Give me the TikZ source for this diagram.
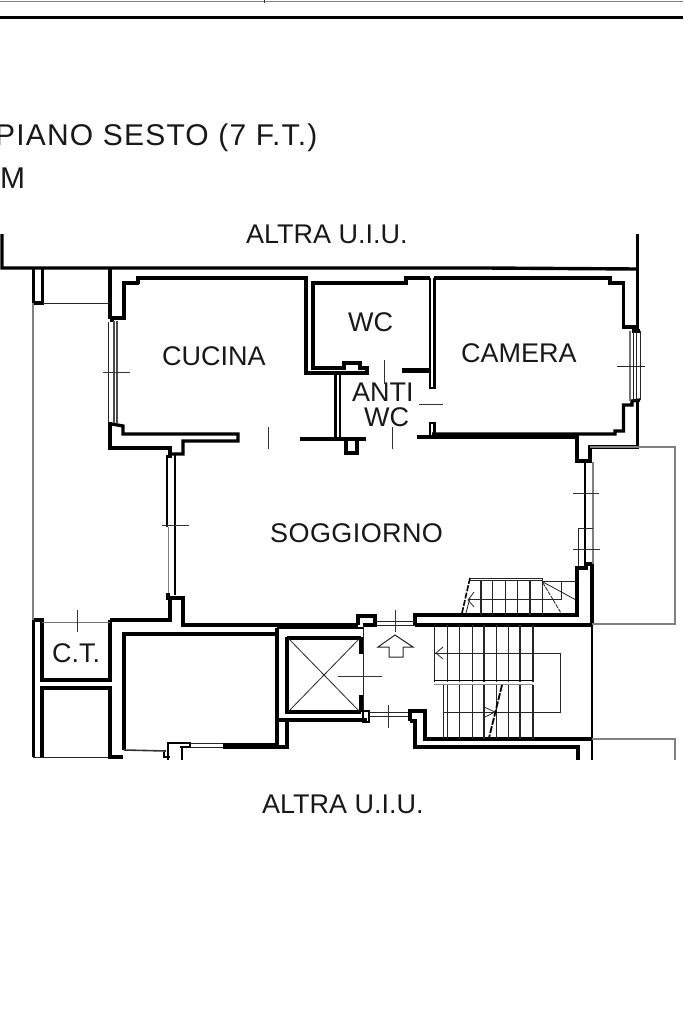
\documentclass[tikz,border=0pt]{standalone}
\usepackage{fontspec}
\setmainfont{Liberation Sans}
\tikzset{
  wall/.style={line width=3.4pt,line join=miter,line cap=butt,black},
  midwall/.style={line width=3.3pt,line join=miter,black},
  thinl/.style={line width=0.8pt,black!85},
  grayl/.style={line width=1.3pt,black!50},
  hair/.style={line width=0.7pt,black!80},
  lbl/.style={inner sep=0pt,anchor=base west,text=black!90},
}
\newcommand{\lbsize}{\fontsize{27}{27}\selectfont}
\newcommand{\ttlsize}{\fontsize{30}{30}\selectfont\addfontfeatures{LetterSpace=4}}
\begin{document}
\begin{tikzpicture}[x=1pt,y=-1pt]
\useasboundingbox (0,0) rectangle (683,1025);
\fill[white] (0,0) rectangle (683,1025);
% header
\draw[line width=1.4pt,black!50] (0,1.5) -- (683,1.5);
\draw[hair] (264,0) -- (264,3);
\draw[line width=2.6pt] (0,17.5) -- (683,17.5);
% texts
\node[lbl] (title) at (-5,145) {\ttlsize PIANO SESTO (7 F.T.)};
\node[lbl] (m) at (0,188) {\ttlsize M};
\node[lbl] (altra1) at (246,243) {\lbsize ALTRA U.I.U.};
\node[lbl] (altra2) at (262,813) {\lbsize ALTRA U.I.U.};
\node[lbl] (cucina) at (162,365) {\lbsize CUCINA};
\node[lbl] (wc1) at (348,331) {\lbsize WC};
\node[lbl] (camera) at (461,362) {\lbsize CAMERA};
\node[lbl] (anti) at (352,401) {\lbsize ANTI};
\node[lbl] (wc2) at (364,426) {\lbsize WC};
\node[lbl] (sogg) at (270,542) {\lbsize\addfontfeatures{LetterSpace=1.5} SOGGIORNO};
\node[lbl] (ct) at (52,662) {\lbsize C.T.};
% outer top walls
\draw[wall] (2,234) -- (2,268) -- (485,268) -- (637,269);
\draw[wall] (637.5,234) -- (637.5,330);
\draw[wall] (637.5,401) -- (637.5,447) -- (590,447) -- (590,461) -- (577,461) -- (577,437) -- (417,437);
% kitchen
\draw[wall] (110,268) -- (110,319);
\draw[midwall] (138,284) -- (138,278) -- (306,278) -- (306,373) -- (367,373) -- (367,368) -- (360,368) -- (360,363) -- (344,363) -- (344,368) -- (313,368) -- (313,283) -- (406,283) -- (406,278) -- (430,278);
\draw[midwall] (139,283) -- (124,283) -- (124,318) -- (112,318) -- (112,322);
\draw[midwall] (110,422) -- (110,448) -- (170,448) -- (170,458);
\draw[midwall] (112,424) -- (123,426) -- (123,434) -- (238,434) -- (238,441) -- (183,441) -- (183,454) -- (168,454);
% kitchen window
\draw[thinl] (108,322) -- (108,422);
\draw[line width=1.2pt,black!70] (114,321) -- (114,423);
\draw[line width=1.2pt,black!70] (117,321) -- (117,423);
\draw[hair] (103,372) -- (130,372);
\draw[hair] (268,427) -- (268,449);
% lower kitchen door right, anti wc
\draw[line width=4.5pt] (300,439) -- (366,439);
\draw[midwall] (346,441) -- (346,453) -- (357,453) -- (357,441);
\draw[line width=3pt] (335,373) -- (335,437);
\draw[line width=2pt] (339.5,373) -- (339.5,437);
% wc door right
\draw[line width=4.5pt] (402,370.5) -- (430,370.5);
\draw[line width=2.6pt] (430,278) -- (430,388) -- (434.5,388) -- (434.5,278);
\draw[line width=2.6pt] (430,437) -- (430,423) -- (434.5,423) -- (434.5,434);
\draw[hair] (384,360) -- (384,384);
\draw[hair] (392,427) -- (392,449);
\draw[hair] (419,404) -- (443,404);
% camera
\draw[midwall] (434,278) -- (610,278) -- (610,283) -- (623.5,283) -- (623.5,327) -- (634,327) -- (634,331) -- (640,331);
\draw[midwall] (640,400) -- (632,401) -- (632,405) -- (623.5,405) -- (623.5,431) -- (615,431) -- (615,434) -- (432,434);
\draw[thinl] (640,331) -- (640,400);
\draw[line width=1.1pt,black!55] (630,331) -- (630,401);
\draw[thinl] (633,331) -- (633,401);
\draw[thinl] (636,331) -- (636,401);
\draw[line width=1pt,black!85] (617,366) -- (645,366);
% living left window
\draw[line width=2.4pt] (167,455) -- (167,527);
\draw[line width=1pt,black!50] (168,527) -- (168,593);
\draw[line width=2.4pt] (175,455) -- (175,595);
\draw[hair] (162,525) -- (189,525);
% living right window
\draw[line width=1.8pt] (585,462) -- (585,564);
\draw[line width=1.2pt,black!50] (593,462) -- (593,565);
\draw[hair] (573,493) -- (599,493);
\draw[hair] (573,549) -- (600,549);
\draw[thinl] (578,568) -- (578,528) -- (593,528);
% living right lower
\draw[wall] (415,625) -- (415,615) -- (577,615) -- (577,568) -- (586,568) -- (586,564) -- (592,564);
\draw[wall] (592,564) -- (592,625);
\draw[wall] (415,625) -- (592,625);
\draw[line width=1.9pt] (592,625) -- (592,760);
% balcony
\draw[grayl] (590,447) -- (675,447) -- (675,624) -- (592,624);
% living left lower
\draw[midwall] (168,593) -- (168,598) -- (183,598) -- (183,625) -- (358,625);
\draw[midwall] (170,597) -- (170,620) -- (110,620);
% entry door
\draw[wall] (358,625) -- (358,616) -- (375,616) -- (375,625) -- (363,625);
\draw[thinl] (375,621) -- (415,621);
\draw[thinl] (375,625) -- (415,625);
\draw[hair] (395,610) -- (395,632);
% lift
\draw[line width=2pt] (277,628) -- (363,628);
\draw[midwall] (277,628) -- (277,745) -- (223,745);
\draw[wall] (287,638) -- (361,638);
\draw[wall] (287,637) -- (287,712) -- (361,712);
\draw[midwall] (277,720) -- (367,720);
\draw[midwall] (287,720) -- (287,747) -- (223,747);
\draw[thinl] (288,638) -- (360,712);
\draw[thinl] (288,712) -- (360,638);
\draw[wall] (361,637) -- (361,654);
\draw[wall] (361,695) -- (361,712);
\draw[thinl] (363,625) -- (363,710);
\draw[hair] (338,676) -- (382,676);
\draw[line width=2.4pt] (363,711) -- (369,711) -- (369,722) -- (363,722) -- cycle;
\draw[thinl] (369,712) -- (410,712);
\draw[thinl] (369,716) -- (410,716);
\draw[hair] (388,705) -- (388,728);
% arrow
\draw[line width=1pt,black!85] (395,635) -- (378,647) -- (389,647) -- (389,657) -- (403,657) -- (403,647) -- (413,647) -- cycle;
% lower landing wall
\draw[midwall] (410,721) -- (410,711) -- (425,711) -- (425,739) -- (592,739);
\draw[midwall] (410,721) -- (415,721) -- (415,747) -- (578,747) -- (578,760);
\draw[grayl] (592,739) -- (675,739) -- (675,760);
% CT
\draw[midwall] (33.5,620) -- (33.5,757);
\draw[midwall] (33,620) -- (42,620) -- (42,680) -- (110,680) -- (110,620);
\draw[line width=1pt,black!55] (42,622) -- (110,622);
\draw[midwall] (42,757) -- (42,688) -- (110,688) -- (110,757) -- (123,757);
\draw[thinl] (33,757) -- (110,757);
\draw[hair] (77,610) -- (77,632);
% top left stub
\draw[midwall] (33.5,268) -- (33.5,303) -- (42.5,303) -- (42.5,268);
\draw[thinl] (43,303) -- (110,303);
\draw[grayl] (33,303) -- (33,620);
% store room
\draw[midwall] (277,634) -- (124,634) -- (124,750);
\draw[line width=1.6pt,black!80] (124,750) -- (166,751);
\draw[line width=2.4pt] (168,760) -- (168,743) -- (190,743) -- (190,747) -- (180,747);
\draw[line width=2.4pt] (182,747) -- (182,760);
\draw[line width=2.4pt] (164,752) -- (164,757) -- (170,757);
\draw[thinl] (190,743) -- (223,743);
\draw[thinl] (190,747) -- (223,747);
% stairs lower flight
\foreach \x/\w in {434/.7,447/.9,459/.8,472/.9,484/1.4,496/.8,508/.9,520/1.4,533/1.2}
  \draw[line width=\w pt,black!85] (\x,625) -- (\x,682);
\foreach \x/\w in {443/.7,447/.9,459/.8,472/.9,484/1.4,496/.8,508/.9,520/1.4,533/1.2}
  \draw[line width=\w pt,black!85] (\x,685) -- (\x,739);
\draw[line width=1.2pt] (434,680.5) -- (533,680.5);
\draw[line width=1pt,black!45] (434,684.5) -- (533,684.5);
\draw[thinl] (434,653) -- (560,653) -- (560,712) -- (443,712);
\draw[thinl] (443,647) -- (436,653) -- (443,659);
\draw[line width=1.8pt,dash pattern=on 7pt off 1.5pt] (502,685) -- (489,738);
\draw[thinl] (484,707) -- (495,712) -- (485,717);
% stairs upper flight
\draw[thinl] (470,578) -- (542,578) -- (542,581) -- (577,581);
\draw[thinl] (470,580) -- (542,580);
\foreach \x/\w in {481/1.3,492/.8,505/.8,517/.8,530/1.2,542/.8}
  \draw[line width=\w pt,black!85] (\x,581) -- (\x,615);
\draw[thinl] (468,599) -- (561,599) -- (561,581);
\draw[thinl] (543,582) -- (576,600);
\draw[thinl,dash pattern=on 4pt off 1pt] (543,583) -- (561,613);
\draw[line width=1.6pt,dash pattern=on 6pt off 1.5pt] (470,578) -- (462,613);
\draw[thinl] (466,613) -- (470,598);
\draw[thinl] (474,592) -- (468,600) -- (474,607);
\end{tikzpicture}
\end{document}
